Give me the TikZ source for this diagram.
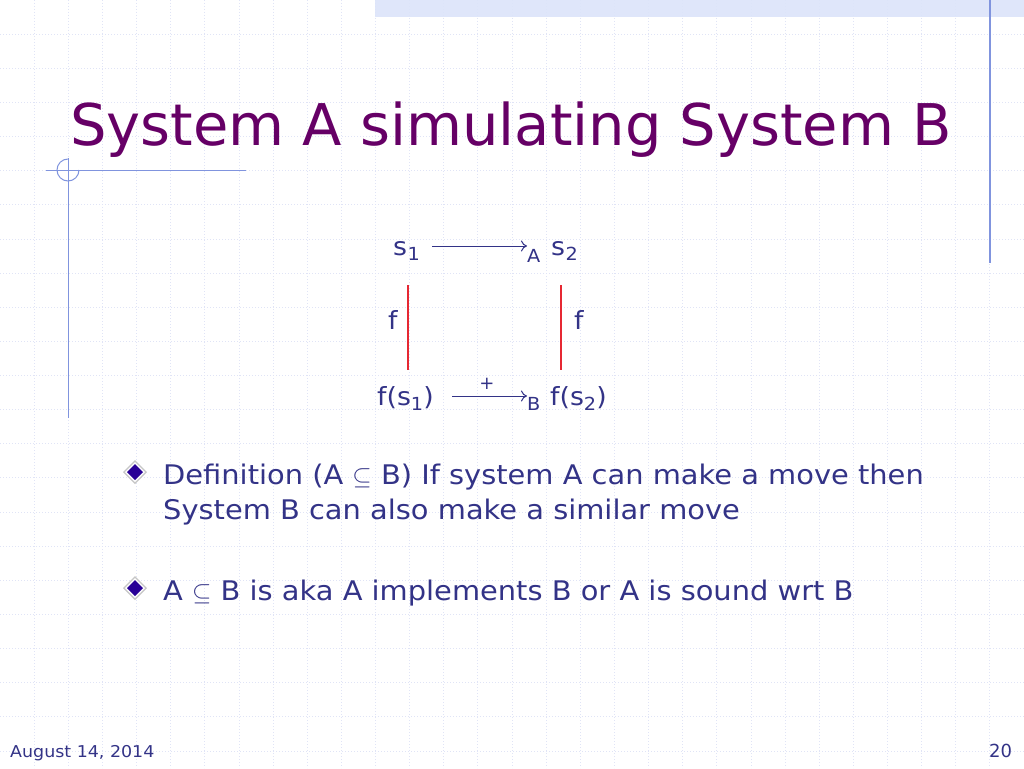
\documentclass[tikz,border=0pt]{standalone}
\usepackage{fontspec}
\setmainfont{DejaVu Sans}
\newfontfamily\wide[FakeStretch=1.07]{DejaVu Sans}
\usetikzlibrary{arrows.meta,shapes.geometric}
\definecolor{titlepurple}{RGB}{102,0,102}
\definecolor{bodyblue}{RGB}{51,51,135}
\definecolor{gridc}{RGB}{224,228,246}
\definecolor{decoblue}{RGB}{128,148,222}
\definecolor{barblue}{RGB}{220,228,250}
\definecolor{redline}{RGB}{230,40,50}
\definecolor{bulletblue}{RGB}{40,0,150}
\tikzset{
  txt/.style={anchor=base west, inner sep=0pt, text=bodyblue},
  dia/.style={font=\wide\fontsize{25}{28}\selectfont, anchor=base west, inner sep=0pt, text=bodyblue},
  sub/.style={font=\wide\fontsize{18}{20}\selectfont, anchor=base west, inner sep=0pt, text=bodyblue},
  body/.style={font=\wide\fontsize{27}{35}\selectfont, anchor=base west, inner sep=0pt, text=bodyblue},
  fmap/.style={draw=redline, line width=1.3pt},
  trans/.style={draw=bodyblue, line width=1pt, -{To[length=6pt,width=11pt,line width=1pt]}},
  bulletshape/.pic={
    \fill[gray!45] (0,-12) -- (12,0) -- (0,12) -- (-12,0) -- cycle;
    \fill[white] (0,-10) -- (10,0) -- (0,10) -- (-10,0) -- cycle;
    \fill[bulletblue] (0,-8) -- (8,0) -- (0,8) -- (-8,0) -- cycle;
  },
}
\begin{document}
\begin{tikzpicture}[x=1pt,y=-1pt]
\useasboundingbox (0,0) rectangle (1024,768);
\fill[white] (0,0) rectangle (1024,768);
% grid
\foreach \i in {1,...,29} {
  \draw[gridc, line width=0.8pt, dash pattern=on 1pt off 2pt] ({\i*34.1333},0) -- ({\i*34.1333},768);
}
\foreach \j in {1,...,22} {
  \draw[gridc, line width=0.8pt, dash pattern=on 1pt off 2pt] (0,{\j*34.1333}) -- (1024,{\j*34.1333});
}
% top bar
\fill[barblue, opacity=0.9] (375,0) rectangle (1024,17);
% right vertical line
\draw[decoblue, line width=1.5pt] (990,0) -- (990,263);
% crosshair
\draw[decoblue, line width=1pt] (46,170) -- (246,170);
\draw[decoblue, line width=1pt] (68,158) -- (68,418);
\draw[decoblue, line width=1pt] (79,170) arc[start angle=0, end angle=270, radius=11];
% title
\node[anchor=base west, inner sep=0pt, text=titlepurple, font=\fontsize{57.5}{70}\selectfont] (title) at (70,145) {System A simulating System B};
% diagram
\node[dia] (s1) at (393,255) {s};
\node[sub] (s1i) at ([yshift=-5pt]s1.base east) {1};
\node[sub] (subA) at (527,262) {A};
\node[dia] (s2) at (551,255) {s};
\node[sub] (s2i) at ([yshift=-5pt]s2.base east) {2};
\coordinate (a1) at (432,246);
\coordinate (a2) at (527,246);
\draw[trans] (a1) -- (a2);
\coordinate (l1) at (408,285);
\coordinate (l2) at (408,370);
\coordinate (r1) at (561,285);
\coordinate (r2) at (561,370);
\draw[fmap] (l1) -- (l2);
\draw[fmap] (r1) -- (r2);
\node[dia] (fl) at (388,329) {f};
\node[dia] (fr) at (574,329) {f};
\node[dia] (fs1) at (377,405) {f(s\raisebox{-5pt}{\fontsize{18}{20}\selectfont 1})};
\node[dia] (fs2) at (550,405) {f(s\raisebox{-5pt}{\fontsize{18}{20}\selectfont 2})};
\node[sub] (subB) at (527,410) {B};
\coordinate (b1) at (452,396);
\coordinate (b2) at (527,396);
\draw[trans] (b1) -- (b2);
\node[anchor=center, inner sep=0pt, text=bodyblue, font=\fontsize{18}{20}\selectfont] (plus) at (487,384) {+};
% bullets
\pic at (135,472) {bulletshape};
\node[body] (t1) at (163,484) {Definition (A \(\subseteq\) B) If system A can make a move then};
\node[body] (t2) at (163,519) {System B can also make a similar move};
\pic at (135,588) {bulletshape};
\node[body] (t3) at (163,600) {A \(\subseteq\) B is aka A implements B or A is sound wrt B};
% footer
\node[txt, font=\wide\fontsize{16.3}{18}\selectfont] (date) at (10,757) {August 14, 2014};
\node[txt, font=\fontsize{18}{22}\selectfont] (page) at (989,757) {20};
\end{tikzpicture}
\end{document}
